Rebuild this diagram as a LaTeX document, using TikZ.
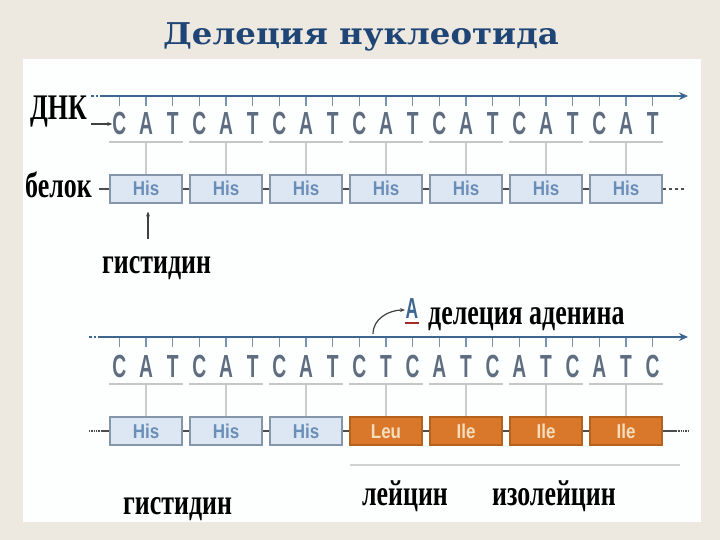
\documentclass[tikz,border=0pt]{standalone}
\usepackage{fontspec}
\usepackage{graphicx}
\setmainfont{Liberation Serif}
\newfontfamily\titlefont{DejaVu Serif}
\newfontfamily\basefont{Liberation Sans}
\usetikzlibrary{arrows.meta}
\definecolor{pagebg}{HTML}{EDE9E0}
\definecolor{panel}{HTML}{FDFEFE}
\definecolor{titleblue}{HTML}{1E4575}
\definecolor{dnablue}{HTML}{3D6690}
\definecolor{nucgray}{HTML}{5E6E80}
\definecolor{hisfill}{HTML}{DCE7F3}
\definecolor{hisline}{HTML}{8596AA}
\definecolor{histext}{HTML}{6A8EB8}
\definecolor{mutfill}{HTML}{D9782B}
\definecolor{mutline}{HTML}{B5621E}
\definecolor{muttext}{HTML}{F6DDBB}
\definecolor{delred}{HTML}{A52A2A}
\newcommand{\aminotext}[1]{\scalebox{0.85}[1]{#1}}
\tikzset{
  lbl/.style={font=\fontsize{36}{36}\selectfont\bfseries, xscale=0.72, inner sep=0pt, anchor=base west},
  nuc/.style={font=\basefont\fontsize{32}{32}\selectfont\bfseries, text=nucgray, xscale=0.6, inner sep=0pt, anchor=base},
  his/.style={draw=hisline, fill=hisfill, line width=1.2pt, minimum width=72pt, minimum height=28pt, inner sep=0pt,
    text height=14pt, text depth=0pt, text=histext, font=\basefont\fontsize{20}{20}\selectfont\bfseries},
  mut/.style={his, draw=mutline, fill=mutfill, text=muttext},
  strand/.style={dnablue, line width=2.8pt, -{Stealth[length=9pt,width=8pt]}},
  tick/.style={dnablue!70, line width=1.2pt},
  codon/.style={gray!45, line width=1.5pt},
  stem/.style={gray!40, line width=1.2pt},
  bond/.style={black!70, line width=1.3pt},
  pointer/.style={black!75, line width=1.2pt, -{Stealth[length=5pt,width=4pt]}}
}
\begin{document}
\begin{tikzpicture}[x=1pt,y=-1pt]
  \useasboundingbox (0,0) rectangle (720,540);
  \fill[pagebg] (0,0) rectangle (720,540);
  \fill[panel] (23,59) rectangle (701,522);
  \node[font=\titlefont\fontsize{30}{30}\selectfont\bfseries, text=titleblue, xscale=1.08, anchor=base] (title) at (361,45) {Делеция нуклеотида};
  % normal strand
  \node[lbl] (dnk) at (30,120) {ДНК};
  \node[lbl] (belok) at (25,197) {белок};
  \coordinate (dnaS) at (100,96);
  \coordinate (dnaE) at (688,96);
  \draw[dnablue, line width=2.5pt, dotted] (91,96) -- (dnaS);
  \draw[strand] (dnaS) -- (dnaE);
  \foreach \l [count=\i from 0] in {C,A,T,C,A,T,C,A,T,C,A,T,C,A,T,C,A,T,C,A,T} {
    \node[nuc] (a\i) at (119.3+26.667*\i,135) {\l};
    \draw[tick] (119.3+26.667*\i,97) -- ++(0,9);
  }
  \draw[pointer] ([xshift=4pt]dnk.base east |- a0.west) -- (a0.west);
  \foreach \i in {1,...,7} {
    \pgfmathsetmacro\cx{66+80*\i}
    \node[his] (p\i) at (\cx,189) {\aminotext{His}};
    \draw[codon] (\cx-37,142) -- (\cx+37,142);
    \draw[stem] (\cx,143) -- (p\i.north);
  }
  \foreach \i in {1,...,6} {
    \pgfmathtruncatemacro\j{\i+1}
    \draw[bond] (p\i) -- (p\j);
  }
  \coordinate (pL) at (99,189);
  \coordinate (pR) at (686,189);
  \draw[bond] (pL) -- (p1);
  \draw[bond, dashed] (p7) -- (pR);
  \node[lbl] (hisA) at (102,273) {гистидин};
  \coordinate (up1) at (148,239);
  \draw[pointer, shorten >=8pt] (up1) -- (up1 |- p1.south);
  % strand after deletion
  \coordinate (mutS) at (101,337);
  \coordinate (mutE) at (688,337);
  \draw[dnablue, line width=2.5pt, dotted] (89,337) -- (mutS);
  \draw[strand] (mutS) -- (mutE);
  \foreach \l [count=\i from 0] in {C,A,T,C,A,T,C,A,T,C,T,C,A,T,C,A,T,C,A,T,C} {
    \node[nuc] (b\i) at (119.3+26.667*\i,377) {\l};
    \draw[tick] (119.3+26.667*\i,338) -- ++(0,9);
  }
  \coordinate (gap) at (373,334);
  \node[nuc, text=dnablue, font=\basefont\fontsize{29}{29}\selectfont\bfseries, inner sep=1pt] (delA) at (412,318) {A};
  \draw[delred, line width=1.6pt] ([yshift=-5pt]delA.base west) -- ([yshift=-5pt]delA.base east);
  \draw[pointer] (gap) to[out=90,in=180] ([yshift=-2pt]delA.west);
  \node[lbl] (del) at (428,324) {делеция аденина};
  \foreach \i in {1,2,3} \node[his] (q\i) at (66+80*\i,431) {\aminotext{His}};
  \foreach \n [count=\i from 4] in {Leu,Ile,Ile,Ile} \node[mut] (q\i) at (66+80*\i,431) {\aminotext{\n}};
  \foreach \i in {1,...,7} {
    \pgfmathsetmacro\cx{66+80*\i}
    \draw[codon] (\cx-37,384) -- (\cx+37,384);
    \draw[stem] (\cx,385) -- (q\i.north);
  }
  \foreach \i in {1,...,6} {
    \pgfmathtruncatemacro\j{\i+1}
    \draw[bond] (q\i) -- (q\j);
  }
  \coordinate (qL) at (101,431);
  \coordinate (qR) at (676,431);
  \draw[bond, densely dotted] (89,431) -- (qL);
  \draw[bond] (qL) -- (q1);
  \draw[bond] (q7) -- (qR);
  \draw[bond, densely dotted] (qR) -- (688,431);
  \draw[gray!35, line width=1.8pt] (350,465) -- (680,465);
  \node[lbl] (hisB) at (123,514) {гистидин};
  \node[lbl] (leu) at (362,505) {лейцин};
  \node[lbl] (ile) at (492,505) {изолейцин};
\end{tikzpicture}
\end{document}
